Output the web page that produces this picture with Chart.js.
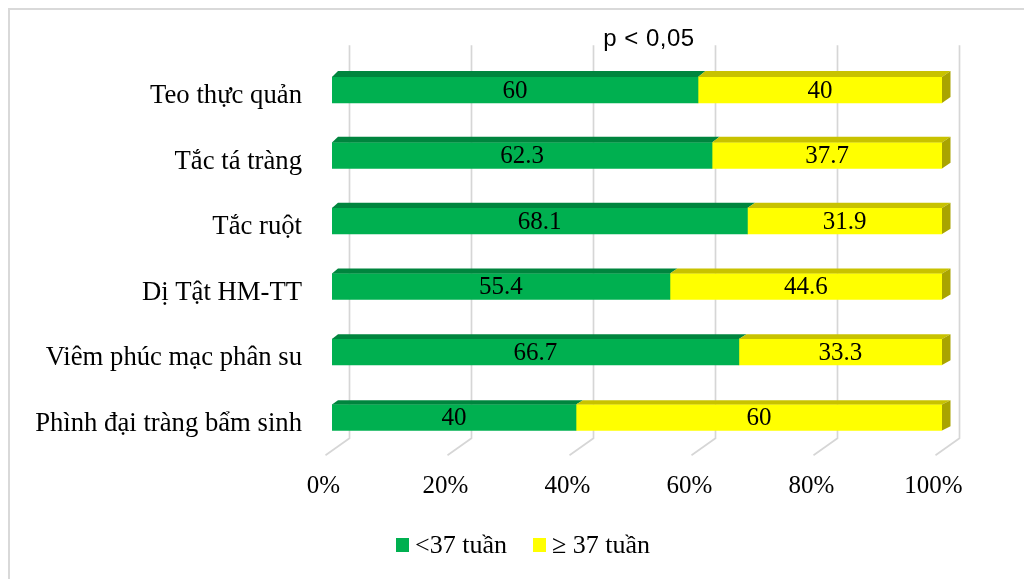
<!DOCTYPE html>
<html><head><meta charset="utf-8">
<script src="https://cdn.jsdelivr.net/npm/chart.js@4.4.1/dist/chart.umd.min.js"></script>
<style>html,body{margin:0;padding:0;background:#fff;} canvas{display:block;}</style>
</head><body>
<canvas id="c" width="1024" height="579"></canvas>
<script>
const categories = ['Teo thực quản', 'Tắc tá tràng', 'Tắc ruột', 'Dị Tật HM-TT', 'Viêm phúc mạc phân su', 'Phình đại tràng bẩm sinh'];
const under37 = [60, 62.3, 68.1, 55.4, 66.7, 40];
const over37 = [40, 37.7, 31.9, 44.6, 33.3, 60];
const seriesNames = ['<37 tuần', '≥ 37 tuần'];
const xTicks = [0, 20, 40, 60, 80, 100];
const titleText = 'p < 0,05';

const FRONT = ['#00B050', '#FFFF00'];
const TOPC = ['#00853E', '#C8C200'];
const SIDEC = ['#007035', '#A9A400'];
const SERIF = '"Liberation Serif", "Times New Roman", serif';

const deco = {
  id: 'deco',
  beforeDraw(chart) {
    const ctx = chart.ctx, a = chart.chartArea, xs = chart.scales.x;
    ctx.save();
    ctx.fillStyle = '#fff';
    ctx.fillRect(0, 0, chart.width, chart.height);
    // outer frame (top + left visible)
    ctx.strokeStyle = '#d9d9d9';
    ctx.lineWidth = 2;
    ctx.beginPath();
    ctx.moveTo(9, chart.height); ctx.lineTo(9, 9); ctx.lineTo(chart.width, 9);
    ctx.stroke();
    // title
    ctx.fillStyle = '#000';
    ctx.font = '24px "Liberation Sans", Arial, sans-serif';
    ctx.textAlign = 'center';
    ctx.textBaseline = 'middle';
    try { ctx.letterSpacing = '0.5px'; } catch (e) {}
    ctx.fillText(titleText, 649, 39);
    try { ctx.letterSpacing = '0px'; } catch (e) {}
    // 3D back-wall gridlines with floor diagonals
    ctx.strokeStyle = '#d6d6d6';
    ctx.lineWidth = 1.7;
    xTicks.forEach(v => {
      const bx = Math.round(xs.getPixelForValue(v) + 16.5) + 0.5;
      ctx.beginPath();
      ctx.moveTo(bx, a.top - 12);
      ctx.lineTo(bx, a.bottom - 12);
      ctx.lineTo(bx - 24, a.bottom + 5);
      ctx.stroke();
    });
    // legend
    ctx.font = '26px ' + SERIF;
    ctx.textAlign = 'left';
    const legX = [396, 533];
    chart.data.datasets.forEach((ds, i) => {
      ctx.fillStyle = FRONT[i];
      ctx.fillRect(legX[i], 538, 13, 14);
      ctx.fillStyle = '#000';
      ctx.fillText(ds.label, legX[i] + 19, 546);
    });
    ctx.restore();
  },
  afterDatasetsDraw(chart) {
    const ctx = chart.ctx;
    const n = chart.data.labels.length;
    const nds = chart.data.datasets.length;
    ctx.save();
    for (let d = 0; d < nds; d++) {
      const meta = chart.getDatasetMeta(d);
      meta.data.forEach((el, i) => {
        const p = el.getProps(['x', 'y', 'base', 'height'], true);
        const x0 = Math.min(p.x, p.base), x1 = Math.max(p.x, p.base);
        const top = p.y - p.height / 2, bot = p.y + p.height / 2;
        const a = chart.chartArea;
        const dxAt = px => 6 + 2.5 * (px - a.left) / (a.right - a.left);
        const dy = 6 - 1.7 * i / (n - 1);
        ctx.fillStyle = TOPC[d];
        ctx.beginPath();
        ctx.moveTo(x0, top); ctx.lineTo(x1, top);
        ctx.lineTo(x1 + dxAt(x1), top - dy); ctx.lineTo(x0 + dxAt(x0), top - dy);
        ctx.closePath(); ctx.fill();
        if (d === nds - 1) {
          ctx.fillStyle = SIDEC[d];
          ctx.beginPath();
          ctx.moveTo(x1, top); ctx.lineTo(x1 + dxAt(x1), top - dy);
          ctx.lineTo(x1 + dxAt(x1), bot - dy); ctx.lineTo(x1, bot);
          ctx.closePath(); ctx.fill();
        }
      });
    }
    ctx.fillStyle = '#000';
    ctx.font = '25px ' + SERIF;
    ctx.textAlign = 'center';
    ctx.textBaseline = 'middle';
    for (let d = 0; d < nds; d++) {
      const meta = chart.getDatasetMeta(d);
      meta.data.forEach((el, i) => {
        const p = el.getProps(['x', 'y', 'base'], true);
        ctx.fillText(String(chart.data.datasets[d].data[i]), (p.x + p.base) / 2, p.y + 1);
      });
    }
    ctx.restore();
  }
};

new Chart(document.getElementById('c'), {
  type: 'bar',
  data: {
    labels: categories,
    datasets: [
      { label: seriesNames[0], data: under37, backgroundColor: FRONT[0], borderWidth: 0, barThickness: 26 },
      { label: seriesNames[1], data: over37, backgroundColor: FRONT[1], borderWidth: 0, barThickness: 26 }
    ]
  },
  options: {
    indexAxis: 'y',
    responsive: false,
    animation: false,
    devicePixelRatio: 1,
    layout: { padding: { left: 0, right: 82, top: 57.25, bottom: 68.75 } },
    plugins: { legend: { display: false }, title: { display: false }, tooltip: { enabled: false } },
    scales: {
      x: {
        stacked: true, min: 0, max: 100,
        grid: { display: false, drawTicks: false }, border: { display: false },
        ticks: { font: { family: SERIF, size: 25 }, color: '#000', padding: 21, labelOffset: -8.5, callback: v => v + '%' },
        afterBuildTicks: s => { s.ticks = xTicks.map(v => ({ value: v })); },
        afterFit: s => { s.height = 60; }
      },
      y: {
        stacked: true,
        grid: { display: false, drawTicks: false }, border: { display: false },
        ticks: { font: { family: SERIF, size: 26.7 }, color: '#000', padding: 30, labelOffset: 6 },
        afterFit: s => { s.width = 332; }
      }
    }
  },
  plugins: [deco]
});
</script>
</body></html>
